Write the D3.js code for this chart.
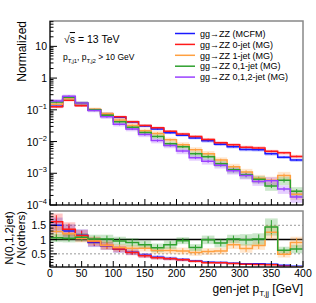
<!DOCTYPE html>
<html>
<head>
<meta charset="utf-8">
<script src="https://cdn.jsdelivr.net/npm/d3@7"></script>
<style>
body { margin: 0; background: #fff; }
text { font-family: "Liberation Sans", Arial, Helvetica, sans-serif; fill: #000; }
</style>
</head>
<body>
<div id="chart"></div>
<script>
// bin edges of gen-jet pT,jj [GeV]
const binEdges = d3.range(0, 401, 20);

// normalized distributions, one value per bin
const mcfm   = [0.13, 0.21, 0.14, 0.1, 0.075, 0.058, 0.041, 0.031, 0.025, 0.019, 0.0158, 0.013, 0.0105, 0.0082, 0.0069, 0.0056, 0.0055, 0.0041, 0.0032, 0.0026];
const jet0   = [0.125, 0.2, 0.135, 0.1, 0.075, 0.06, 0.042, 0.032, 0.027, 0.021, 0.0174, 0.0144, 0.0116, 0.0091, 0.0079, 0.0066, 0.0063, 0.0049, 0.0044, 0.0034];
const jet1   = [0.15, 0.22, 0.155, 0.105, 0.075, 0.048, 0.032, 0.022, 0.018, 0.0113, 0.0079, 0.0055, 0.0041, 0.0026, 0.0016, 0.0011, 0.0007, 0.0006, 0.00085, 0.00022];
const jet01  = [0.175, 0.25, 0.165, 0.1, 0.068, 0.042, 0.028, 0.0194, 0.0144, 0.0085, 0.0069, 0.0041, 0.0033, 0.002, 0.0013, 0.0009, 0.00065, 0.0004, 0.0006, 0.00027];
const jet012 = [0.19, 0.27, 0.165, 0.095, 0.06, 0.035, 0.025, 0.0166, 0.0107, 0.0075, 0.005, 0.0031, 0.0024, 0.0018, 0.0012, 0.00085, 0.00055, 0.00058, 0.00032, 0.00018];

// relative uncertainties of the bands in the upper pad
const relErrMain = [0.1, 0.08, 0.08, 0.08, 0.1, 0.1, 0.1, 0.1, 0.1, 0.1, 0.1, 0.1, 0.12, 0.12, 0.12, 0.12, 0.12, 0.12, 0.12, 0.12];
const relErrJet  = [0.15, 0.12, 0.12, 0.12, 0.14, 0.15, 0.16, 0.17, 0.18, 0.18, 0.2, 0.2, 0.22, 0.22, 0.24, 0.25, 0.27, 0.3, 0.3, 0.35];

// ratio N(0,1,2jet) / N(others)
const ratioMcfm  = [1.5, 1.3, 1.15, 0.9, 0.78, 0.66, 0.56, 0.45, 0.38, 0.34, 0.3, 0.25, 0.21, 0.2, 0.17, 0.15, 0.15, 0.14, 0.1, 0.07];
const ratioJet0  = [1.62, 1.36, 1.14, 0.93, 0.79, 0.67, 0.55, 0.43, 0.36, 0.33, 0.29, 0.24, 0.19, 0.19, 0.16, 0.14, 0.13, 0.12, 0.07, 0.05];
const ratioJet1  = [1.28, 1.2, 1.05, 0.95, 0.8, 0.72, 0.7, 0.7, 0.62, 0.62, 0.6, 0.55, 0.58, 0.6, 0.82, 0.69, 0.79, 1.26, 0.49, 0.9];
const ratioJet01 = [1.06, 1.05, 1.08, 1.02, 1.02, 0.95, 0.9, 0.82, 0.71, 0.82, 0.96, 0.72, 0.99, 0.88, 1.02, 0.99, 1.02, 1.44, 0.63, 0.67];
const ratioErrJet = [0.25, 0.2, 0.15, 0.15, 0.15, 0.12, 0.12, 0.12, 0.12, 0.12, 0.12, 0.12, 0.12, 0.12, 0.15, 0.15, 0.15, 0.25, 0.12, 0.2];
const ratioErrJet01 = [0.15, 0.15, 0.15, 0.15, 0.15, 0.15, 0.15, 0.15, 0.15, 0.15, 0.12, 0.12, 0.15, 0.15, 0.15, 0.2, 0.2, 0.3, 0.12, 0.15];

const legendLabels = ["gg\u2192ZZ (MCFM)", "gg\u2192ZZ 0-jet (MG)", "gg\u2192ZZ 1-jet (MG)", "gg\u2192ZZ 0,1-jet (MG)", "gg\u2192ZZ 0,1,2-jet (MG)"];
const colors = ["#1a1aff", "#ff1a1a", "#ffa040", "#2ea02e", "#9a40ff"];

const width = 316, height = 303;
const left = 50, right = 303;
const topY = 21, topBottom = 205;
const ratTop = 211, ratBottom = 267;

const svg = d3.select("#chart").append("svg")
    .attr("width", width)
    .attr("height", height);

const x = d3.scaleLinear().domain([0, 400]).range([left, right]);
const y = d3.scaleLog().domain([1e-4, 63]).range([topBottom, topY]);
const yr = d3.scaleLinear().domain([0.04, 2]).range([ratBottom, ratTop]);

svg.append("clipPath").attr("id", "clipTop")
  .append("rect").attr("x", left).attr("y", topY).attr("width", right - left).attr("height", topBottom - topY);
svg.append("clipPath").attr("id", "clipRat")
  .append("rect").attr("x", left).attr("y", ratTop).attr("width", right - left).attr("height", ratBottom - ratTop);

// step line through both edges of every bin
function stepLine(vals, ys) {
  let pts = [];
  vals.forEach(function(v, i) {
    pts.push([x(binEdges[i]), ys(v)]);
    pts.push([x(binEdges[i + 1]), ys(v)]);
  });
  return d3.line()(pts);
}

function drawHist(g, vals, lo, hi, ys, color, barLo, barHi) {
  g.append("g").selectAll("rect")
    .data(vals)
    .enter().append("rect")
      .attr("x", (d, i) => x(binEdges[i]))
      .attr("width", (d, i) => x(binEdges[i + 1]) - x(binEdges[i]))
      .attr("y", (d, i) => ys(hi[i]))
      .attr("height", (d, i) => ys(lo[i]) - ys(hi[i]))
      .attr("fill", color)
      .attr("fill-opacity", 0.25);
  g.append("g").selectAll("line")
    .data(vals)
    .enter().append("line")
      .attr("x1", (d, i) => x(binEdges[i] + 10))
      .attr("x2", (d, i) => x(binEdges[i] + 10))
      .attr("y1", (d, i) => ys(barLo[i]))
      .attr("y2", (d, i) => ys(barHi[i]))
      .attr("stroke", color)
      .attr("stroke-width", 1);
}

function drawLine(g, vals, ys, color) {
  g.append("path")
    .attr("d", stepLine(vals, ys))
    .attr("fill", "none")
    .attr("stroke", color)
    .attr("stroke-width", 1.5);
}

// ---------- upper pad ----------
const gTop = svg.append("g").attr("clip-path", "url(#clipTop)");
const series = [mcfm, jet0, jet1, jet01, jet012];
const errs = [relErrMain, relErrMain, relErrJet, relErrJet, relErrJet];
series.forEach(function(s, k) {
  const e = errs[k];
  drawHist(gTop, s,
    s.map((v, i) => v * (1 - e[i])), s.map((v, i) => v * (1 + e[i])), y, colors[k],
    s.map((v, i) => v * (1 - e[i] * 0.5)), s.map((v, i) => v * (1 + e[i] * 0.5)));
});
series.forEach((s, k) => drawLine(gTop, s, y, colors[k]));

// ---------- ratio pad ----------
const gRat = svg.append("g").attr("clip-path", "url(#clipRat)");
[0.5, 1.5].forEach(function(v) {
  gRat.append("line")
    .attr("x1", left).attr("x2", right)
    .attr("y1", yr(v)).attr("y2", yr(v))
    .attr("stroke", "#999").attr("stroke-width", 1)
    .attr("stroke-dasharray", "2,2");
});
gRat.append("line")
  .attr("x1", left).attr("x2", right)
  .attr("y1", yr(1)).attr("y2", yr(1))
  .attr("stroke", "#000").attr("stroke-width", 1.5);

const ratios = [ratioMcfm, ratioJet0, ratioJet1, ratioJet01];
const ratioErrs = [
  ratioMcfm.map(v => v * 0.18),
  ratioJet0.map(v => v * 0.18),
  ratioErrJet,
  ratioErrJet01
];
ratios.forEach(function(s, k) {
  const e = ratioErrs[k];
  drawHist(gRat, s,
    s.map((v, i) => v - e[i]), s.map((v, i) => v + e[i]), yr, colors[k],
    s.map((v, i) => v - e[i] * 0.8), s.map((v, i) => v + e[i] * 0.8));
});
ratios.forEach((s, k) => drawLine(gRat, s, yr, colors[k]));

// ---------- frames ----------
[[topY, topBottom], [ratTop, ratBottom]].forEach(function(f) {
  svg.append("rect")
    .attr("x", left).attr("y", f[0])
    .attr("width", right - left).attr("height", f[1] - f[0])
    .attr("fill", "none").attr("stroke", "#888").attr("stroke-width", 1.5);
  svg.append("line").attr("x1", left).attr("x2", left).attr("y1", f[0]).attr("y2", f[1])
    .attr("stroke", "#000").attr("stroke-width", 1);
  svg.append("line").attr("x1", left).attr("x2", right).attr("y1", f[1]).attr("y2", f[1])
    .attr("stroke", "#000").attr("stroke-width", 1);
});

// ---------- axes ----------
function inwardTicks(g, vals, scale, len, vertical, base) {
  g.selectAll(null)
    .data(vals)
    .enter().append("line")
      .attr("x1", d => vertical ? base : scale(d))
      .attr("x2", d => vertical ? base + len : scale(d))
      .attr("y1", d => vertical ? scale(d) : base)
      .attr("y2", d => vertical ? scale(d) : base - len)
      .attr("stroke", "#000")
      .attr("stroke-width", 1);
}

const axes = svg.append("g");
const xMajor = d3.range(0, 401, 50);
const xMinor = d3.range(0, 401, 10).filter(v => v % 50 !== 0);
[topBottom, ratBottom].forEach(function(b) {
  inwardTicks(axes, xMajor, x, 6, false, b);
  inwardTicks(axes, xMinor, x, 3, false, b);
});

const yMajor = [1e-4, 1e-3, 1e-2, 1e-1, 1, 10];
let yMinor = [];
yMajor.forEach(function(d) {
  d3.range(2, 10).forEach(function(m) { if (d * m < 63) yMinor.push(d * m); });
});
inwardTicks(axes, yMajor, y, 7, true, left);
inwardTicks(axes, yMinor, y, 3.5, true, left);

const rMajor = [0.5, 1, 1.5];
const rMinor = d3.range(0.1, 2.0, 0.1).map(v => +v.toFixed(1)).filter(v => rMajor.indexOf(v) < 0);
inwardTicks(axes, rMajor, yr, 7, true, left);
inwardTicks(axes, rMinor, yr, 3.5, true, left);

// y tick labels, upper pad
const yExp = [-4, -3, -2, -1, 0, 1];
yExp.forEach(function(e) {
  const t = axes.append("text")
    .attr("x", left - 3)
    .attr("y", y(Math.pow(10, e)) + 4)
    .attr("text-anchor", "end")
    .attr("font-size", 10.5);
  if (e === 0) t.text("1");
  else if (e === 1) t.text("10");
  else {
    t.append("tspan").text("10");
    t.append("tspan").attr("dy", -5).attr("font-size", 7.5).text("\u2212" + (-e));
  }
});

// ratio tick labels
rMajor.forEach(function(v) {
  axes.append("text")
    .attr("x", left - 4)
    .attr("y", yr(v) + 4)
    .attr("text-anchor", "end")
    .attr("font-size", 10.5)
    .text(v);
});

// x tick labels
xMajor.forEach(function(v) {
  axes.append("text")
    .attr("x", x(v))
    .attr("y", 277)
    .attr("text-anchor", "middle")
    .attr("font-size", 10.5)
    .text(v);
});

// axis titles
svg.append("text")
  .attr("transform", "translate(26," + topY + ") rotate(-90)")
  .attr("text-anchor", "end")
  .attr("font-size", 12)
  .text("Normalized");

svg.append("text")
  .attr("transform", "translate(13,238) rotate(-90)")
  .attr("text-anchor", "middle")
  .attr("font-size", 11.5)
  .text("N(0,1,2jet)");
svg.append("text")
  .attr("transform", "translate(25,238) rotate(-90)")
  .attr("text-anchor", "middle")
  .attr("font-size", 11.5)
  .text("/ N(others)");

const xt = svg.append("text")
  .attr("x", right)
  .attr("y", 293)
  .attr("text-anchor", "end")
  .attr("font-size", 12);
xt.append("tspan").text("gen-jet p");
xt.append("tspan").attr("dy", 3).attr("font-size", 8).text("T,jj");
xt.append("tspan").attr("dy", -3).text(" [GeV]");

// ---------- annotations ----------
const rs = svg.append("text").attr("x", 64).attr("y", 43).attr("font-size", 10.5);
rs.append("tspan").text("\u221A");
rs.append("tspan").attr("text-decoration", "overline").text("s");
rs.append("tspan").text(" = 13 TeV");

const cut = svg.append("text").attr("x", 63).attr("y", 60).attr("font-size", 8.5);
cut.append("tspan").text("p");
cut.append("tspan").attr("dy", 3).attr("font-size", 6).text("T,j1");
cut.append("tspan").attr("dy", -3).text(", p");
cut.append("tspan").attr("dy", 3).attr("font-size", 6).text("T,j2");
cut.append("tspan").attr("dy", -3).text(" > 10 GeV");

// ---------- legend ----------
const legend = svg.append("g");
legendLabels.forEach(function(lab, i) {
  const ly = 33.5 + i * 10.9;
  legend.append("line")
    .attr("x1", 175).attr("x2", 195)
    .attr("y1", ly).attr("y2", ly)
    .attr("stroke", colors[i]).attr("stroke-width", 1.5);
  legend.append("text")
    .attr("x", 200).attr("y", ly + 3.2)
    .attr("font-size", 9)
    .text(lab);
});
</script>
</body>
</html>
